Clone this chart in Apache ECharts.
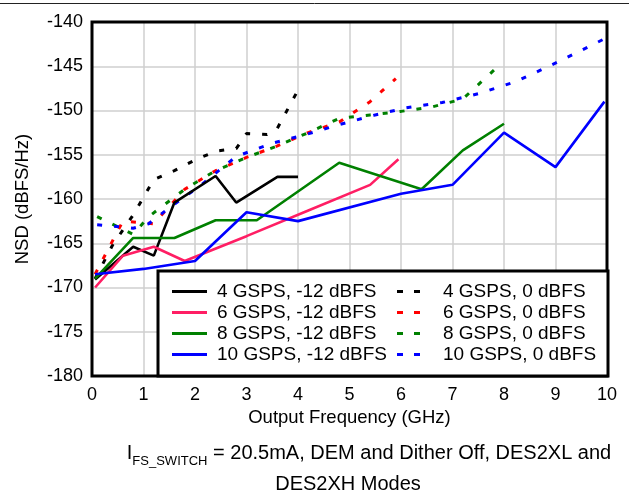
<!DOCTYPE html>
<html>
<head>
<meta charset="utf-8">
<script src="https://cdn.jsdelivr.net/npm/echarts@6/dist/echarts.min.js"></script>
<style>
  html, body { margin: 0; padding: 0; background: #fff; }
  #chart { width: 629px; height: 494px; }
</style>
</head>
<body>
<div id="chart"></div>
<script>
// NSD vs output frequency, [GHz, dBFS/Hz] pairs
var solid4 = [[0.06, -169.1], [0.8, -165.4], [1.2, -166.4], [1.6, -160.4], [2.4, -157.4], [2.8, -160.4], [3.6, -157.5], [4.0, -157.5]];
var solid6 = [[0.06, -170], [0.6, -166.4], [1.2, -165.4], [1.8, -167], [3.0, -164.2], [4.2, -161.3], [5.4, -158.4], [5.95, -155.5]];
var solid8 = [[0.06, -169], [0.8, -164.4], [1.6, -164.4], [2.4, -162.4], [3.2, -162.4], [4.8, -155.9], [6.4, -158.9], [7.2, -154.5], [8.0, -151.5]];
var solid10 = [[0.06, -168.5], [1, -167.9], [2, -167], [3, -161.5], [4, -162.5], [6, -159.4], [7, -158.4], [8, -152.5], [9, -156.4], [9.95, -149]];

var dash4 = [[0.06, -169], [0.4, -165.2], [0.8, -161.8], [1.2, -157.8], [1.6, -156.8], [2.0, -155.6], [2.4, -154.6], [2.8, -154.3], [3.0, -152.6], [3.4, -152.7], [3.6, -152.0], [4.0, -147.7]];
var dash6 = [[0.06, -168.5], [0.6, -162.5], [1.2, -162.8], [1.8, -158.9], [2.4, -156.8], [3.0, -155.3], [3.6, -154], [4.2, -152.5], [4.8, -151.3], [5.4, -149], [5.9, -146.4]];
var dash8 = [[0.1, -162], [0.8, -164], [1.1, -162], [1.8, -158.9], [2.4, -156.8], [3.0, -155.3], [3.6, -154], [4.2, -152.5], [4.8, -150.9], [5.4, -150.5], [6.0, -150.1], [6.6, -149.6], [7.2, -148.7], [7.85, -145.2]];
var dash10 = [[0.1, -162.9], [0.8, -163.3], [1.1, -162.8], [1.5, -161], [2.1, -158.5], [2.8, -155.2], [3.5, -153.7], [4.1, -152.8], [4.8, -151.6], [5.5, -150.5], [6.1, -149.7], [6.8, -149.1], [7.5, -148.1], [8.2, -146.8], [8.8, -145.2], [9.4, -143.5], [9.95, -141.9]];

var solidNames = ["4 GSPS, -12 dBFS", "6 GSPS, -12 dBFS", "8 GSPS, -12 dBFS", "10 GSPS, -12 dBFS"];
var dashNames = ["4 GSPS, 0 dBFS", "6 GSPS, 0 dBFS", "8 GSPS, 0 dBFS", "10 GSPS, 0 dBFS"];
var solidColors = ["#000000", "#ff1e64", "#008000", "#0000ff"];
var dashColors = ["#000000", "#ff0000", "#008000", "#0000ff"];

var FONT = "Liberation Sans, Arial, sans-serif";
var DASH = [5, 12];

function makeLine(name, data, color, dashed) {
  return {
    name: name,
    type: "line",
    data: data,
    symbol: "none",
    showSymbol: false,
    silent: true,
    animation: false,
    lineStyle: {
      color: color,
      width: dashed ? 3 : 2.6,
      type: dashed ? DASH : "solid"
    },
    itemStyle: { color: color }
  };
}

var solidData = [solid4, solid6, solid8, solid10];
var dashData = [dash4, dash6, dash8, dash10];
var series = [];
for (var i = 0; i < 4; i++) {
  series.push(makeLine(dashNames[i], dashData[i], dashColors[i], true));
}
for (i = 0; i < 4; i++) {
  series.push(makeLine(solidNames[i], solidData[i], solidColors[i], false));
}

var dom = document.getElementById("chart");
var myChart = echarts.init(dom, null, { renderer: "canvas" });

var legendText = { color: "#000", fontSize: 19, fontFamily: FONT, fontWeight: "normal" };
var noteRich = {
  a: { fontSize: 20, fontFamily: FONT, fontWeight: "normal", color: "#000", lineHeight: 30 },
  s: { fontSize: 13, fontFamily: FONT, fontWeight: "normal", color: "#000", lineHeight: 18, verticalAlign: "bottom" }
};

var option = {
  animation: false,
  backgroundColor: "#fff",
  textStyle: { fontFamily: FONT },
  // footnote under the chart, two lines
  title: [
    {
      left: 364,
      top: 433,
      textAlign: "center",
      text: "{a|I}{s|FS_SWITCH}{a| = 20.5mA, DEM and Dither Off, DES2XL and}",
      textStyle: { fontWeight: "normal", rich: noteRich }
    },
    {
      left: 343,
      top: 464,
      textAlign: "center",
      text: "{a|DES2XH Modes}",
      textStyle: { fontWeight: "normal", rich: noteRich }
    }
  ],
  grid: {
    left: 92,
    right: 22,
    top: 22,
    bottom: 118,
    show: false
  },
  legend: [
    {
      orient: "vertical",
      left: 167,
      top: 277,
      itemWidth: 35,
      itemHeight: 3,
      itemGap: 2,
      icon: "rect",
      selectedMode: false,
      z: 10,
      data: solidNames,
      textStyle: Object.assign({ padding: [0, 0, 0, 5] }, legendText)
    },
    {
      orient: "vertical",
      left: 392,
      top: 277,
      itemWidth: 23,
      itemHeight: 3,
      itemGap: 2,
      icon: "path://M0,0h6v3h-6zM17,0h6v3h-6z",
      selectedMode: false,
      z: 10,
      data: dashNames,
      textStyle: Object.assign({ padding: [0, 0, 0, 18] }, legendText)
    }
  ],
  xAxis: {
    type: "value",
    min: 0,
    max: 10,
    interval: 1,
    name: "Output Frequency (GHz)",
    nameLocation: "middle",
    nameGap: 22,
    nameTextStyle: { color: "#000", fontSize: 18.5, fontFamily: FONT },
    axisLine: { show: false },
    axisTick: { show: false },
    axisLabel: { color: "#000", fontSize: 18, fontFamily: FONT, margin: 10 },
    splitLine: { show: true, lineStyle: { color: "#cfcfcf", width: 1.5 } }
  },
  yAxis: {
    type: "value",
    min: -180,
    max: -140,
    interval: 5,
    name: "NSD (dBFS/Hz)",
    nameLocation: "middle",
    nameGap: 60,
    nameTextStyle: { color: "#000", fontSize: 18.5, fontFamily: FONT },
    axisLine: { show: false },
    axisTick: { show: false },
    axisLabel: { color: "#000", fontSize: 18, fontFamily: FONT, margin: 9 },
    splitLine: { show: true, lineStyle: { color: "#cfcfcf", width: 1.5 } }
  },
  graphic: [
    {
      // thin rule across the top of the figure
      type: "line",
      z: 1,
      shape: { x1: 0, y1: 3.5, x2: 629, y2: 3.5 },
      style: { stroke: "#222", lineWidth: 1 }
    },
    {
      // heavy frame round the plot area, drawn over the grid lines
      type: "rect",
      z: 5,
      shape: { x: 92, y: 22, width: 515, height: 354 },
      style: { fill: null, stroke: "#000", lineWidth: 3 }
    },
    {
      // legend box sitting inside the plot
      type: "rect",
      z: 6,
      shape: { x: 158, y: 271, width: 450, height: 105 },
      style: { fill: "#fff", stroke: "#000", lineWidth: 3 }
    }
  ],
  series: series
};

myChart.setOption(option, true);
window.onresize = function() {
  myChart.resize();
};
</script>
</body>
</html>
